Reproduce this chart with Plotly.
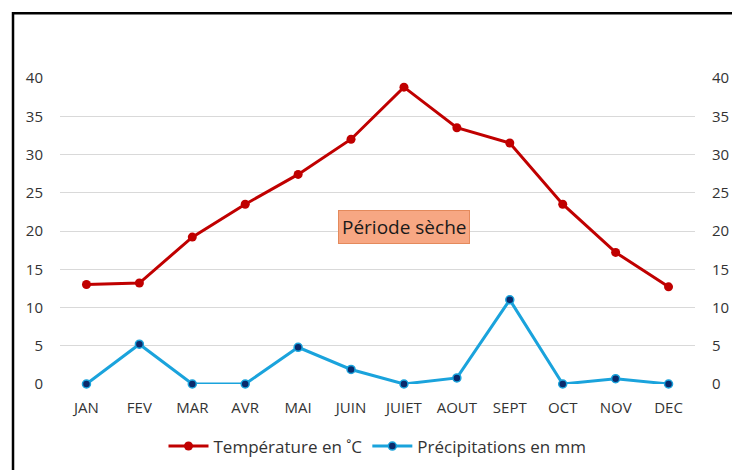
import plotly.graph_objects as go

months = ["JAN", "FEV", "MAR", "AVR", "MAI", "JUIN", "JUIET", "AOUT", "SEPT", "OCT", "NOV", "DEC"]
temperature = [13.0, 13.2, 19.2, 23.5, 27.4, 32.0, 38.8, 33.5, 31.5, 23.5, 17.2, 12.7]
precipitation = [0, 5.2, 0, 0, 4.8, 1.9, 0, 0.8, 11.0, 0, 0.7, 0]
y_ticks = [0, 5, 10, 15, 20, 25, 30, 35, 40]

FONT = "Open Sans"
TEXT = "#333333"

fig = go.Figure()
fig.add_trace(
    go.Scatter(
        x=months,
        y=temperature,
        mode="lines+markers",
        name="Température en ˚C",
        line=dict(color="#C00000", width=3),
        marker=dict(color="#C00000", size=9),
        cliponaxis=False,
    )
)
fig.add_trace(
    go.Scatter(
        x=months,
        y=precipitation,
        mode="lines+markers",
        name="Précipitations en mm",
        line=dict(color="#1AA3DC", width=3),
        marker=dict(color="#0B2A6B", size=8, line=dict(color="#1AA3DC", width=1.5)),
        cliponaxis=False,
    )
)
# invisible trace so the right-hand axis shows its labels
fig.add_trace(
    go.Scatter(x=months, y=temperature, yaxis="y2", mode="lines",
               line=dict(width=0), showlegend=False, hoverinfo="skip", opacity=0)
)

fig.add_annotation(
    x="JUIET", y=20.5, text="Période sèche", showarrow=False,
    font=dict(family=FONT, size=19, color="#1a1a1a"),
    bgcolor="#F7A783", bordercolor="#E48A5C", borderwidth=1, borderpad=3,
)

# chart frame, cut at the right and bottom like the original screenshot
fig.add_shape(
    type="rect", xref="paper", yref="paper",
    x0=-0.074, x1=1.2, y0=-0.5, y1=1.212,
    line=dict(color="black", width=2.5), layer="above",
)

axis_font = dict(family=FONT, size=15, color=TEXT)
fig.update_layout(
    width=732,
    height=470,
    paper_bgcolor="white",
    plot_bgcolor="white",
    margin=dict(l=60, r=37, t=78, b=86),
    font=dict(family=FONT, color=TEXT),
    xaxis=dict(
        range=[-0.5, 11.5], showgrid=False, showline=False, ticks="",
        tickfont=axis_font, ticklabelstandoff=13, automargin=False,
    ),
    yaxis=dict(
        range=[0, 40], tickvals=y_ticks, showgrid=True, gridcolor="#D9D9D9",
        gridwidth=1, zeroline=False, showline=False, tickfont=axis_font,
        ticklabelstandoff=16, automargin=False,
    ),
    yaxis2=dict(
        range=[0, 40], tickvals=y_ticks, overlaying="y", side="right",
        showgrid=False, zeroline=False, showline=False, tickfont=axis_font,
        ticklabelstandoff=16, automargin=False,
    ),
    legend=dict(
        orientation="h", xref="paper", x=0.5, xanchor="center",
        yref="container", y=0.05, yanchor="middle",
        font=dict(family=FONT, size=17, color=TEXT), itemwidth=40,
    ),
    showlegend=True,
)

# drop the page's default body margin so the figure sits at the window corner
fig.write_html(
    "out.html",
    config={"displayModeBar": False},
    post_script="document.body.style.margin='0';document.body.style.overflow='hidden';",
)
